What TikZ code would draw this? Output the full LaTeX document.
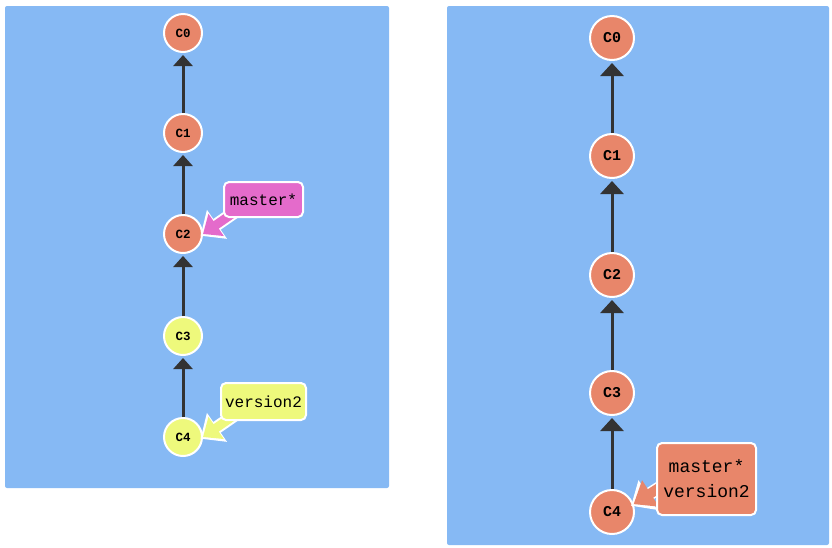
\documentclass[tikz,border=0pt]{standalone}
\usepackage{fontspec}
\setmonofont{Liberation Mono}
\usetikzlibrary{arrows.meta,positioning}
\definecolor{panelcol}{HTML}{86B9F4}
\definecolor{headcol}{HTML}{E8866A}
\definecolor{verscol}{HTML}{EEF97C}
\definecolor{mastcol}{HTML}{E46BCB}
\definecolor{edgecol}{HTML}{333333}

\begin{document}
\begin{tikzpicture}[x=1pt,y=-1pt,
  commit/.style={circle,draw=white,line width=2pt,fill=#1,inner sep=0pt,
    minimum size=38pt,font=\ttfamily\bfseries\fontsize{12.5}{14}\selectfont},
  bigcommit/.style={commit=#1,minimum size=44pt,
    font=\ttfamily\bfseries\fontsize{15}{17}\selectfont},
  parent/.style={draw=edgecol,line width=3pt,shorten >=2pt,
    -{Triangle[width=19pt,length=11pt]}},
  bigparent/.style={parent,-{Triangle[width=23pt,length=13pt]}},
  branch/.style={draw=white,line width=2pt,rounded corners=5pt,fill=#1,
    inner sep=0pt,font=\ttfamily\fontsize{16}{19}\selectfont},
  pointer/.style={draw=#1,line width=9pt,-{Triangle[width=26pt,length=16pt]},
    preaction={draw=white,line width=13pt,shorten >=-3pt,
      -{Triangle[width=34pt,length=20pt]}}}]
  \useasboundingbox (0,0) rectangle (832,547);
  % the two panels
  \fill[panelcol,rounded corners=2pt] (5,6) rectangle (389,488);
  \fill[panelcol,rounded corners=2pt] (447,6) rectangle (829,545);

  % left: version2 branched off c2
  \foreach \i/\y/\c in {0/33/headcol,1/133/headcol,2/234/headcol,3/336/verscol,4/437/verscol}
    \node[commit=\c] (l\i) at (183,\y) {C\i};
  \foreach \i/\j in {1/0,2/1,3/2,4/3}
    \draw[parent] (l\i) -- (l\j);
  \coordinate (ltail) at (242,207);
  \coordinate (vtail) at (242,410);
  \draw[pointer=mastcol] (ltail) -- (l2.east);
  \draw[pointer=verscol] (vtail) -- (l4.east);
  \node[branch=mastcol,minimum width=79pt,minimum height=35pt] (lmaster) at (263.5,199.5) {master*};
  \node[branch=verscol,minimum width=85pt,minimum height=37pt] (lvers) at (263.5,401.5) {version2};

  % right: after the merge
  \foreach \i/\y in {0/38,1/156,2/275,3/393,4/512}
    \node[bigcommit=headcol] (r\i) at (612,\y) {C\i};
  \foreach \i/\j in {1/0,2/1,3/2,4/3}
    \draw[bigparent] (r\i) -- (r\j);
  \coordinate (rtail) at (670,481);
  \draw[pointer=headcol,line width=10pt,-{Triangle[width=30pt,length=20pt]}] (rtail) -- (r4.20);
  \node[branch=headcol,minimum width=99pt,minimum height=72pt,align=center,
    font=\ttfamily\fontsize{18}{25}\selectfont] (rlabel) at (706.5,479) {master*\\version2};
\end{tikzpicture}
\end{document}
